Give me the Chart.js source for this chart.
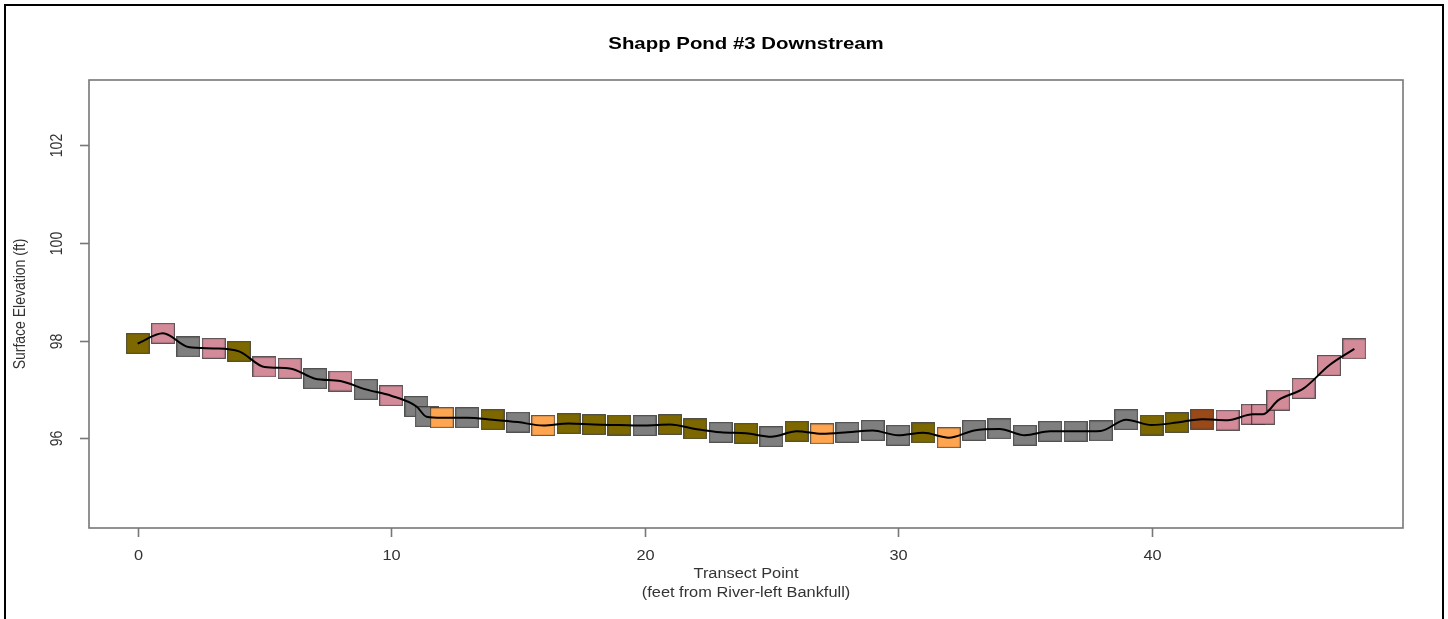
<!DOCTYPE html>
<html lang="en">
<head>
    <meta charset="UTF-8">
    <title>Shapp Pond #3 Downstream</title>
    <script src="https://cdn.jsdelivr.net/npm/chart.js"></script>
    <style>
        body { margin: 0; background: #fff; }
        #wrap { width: 1448px; height: 619px; position: relative; }
    </style>
</head>
<body>
    <div id="wrap"><canvas id="profile" width="1448" height="619"></canvas></div>
    <script>
        // transect point (feet from river-left bankfull) and surface elevation (ft)
        const transectPoints = [0, 1, 2, 3, 4, 5, 6, 7, 8, 9, 10, 11, 11.4, 12, 13, 14, 15, 16, 17, 18, 19, 20,
            21, 22, 23, 24, 25, 26, 27, 28, 29, 30, 31, 32, 33, 34, 35, 36, 37, 38, 39, 40,
            41, 42, 43, 44, 44.4, 45, 46, 47, 48];
        const elevations = [97.94, 98.15, 97.87, 97.84, 97.78, 97.46, 97.43, 97.22, 97.17, 97.00, 96.87, 96.65, 96.44,
            96.42, 96.42, 96.38, 96.33, 96.26, 96.30, 96.28, 96.27, 96.26, 96.28, 96.19, 96.12, 96.10,
            96.03, 96.14, 96.09, 96.12, 96.16, 96.06, 96.11, 96.01, 96.16, 96.19, 96.06, 96.14, 96.14,
            96.15, 96.38, 96.27, 96.32, 96.39, 96.37, 96.49, 96.49, 96.78, 97.02, 97.49, 97.83];
        // substrate class of each point (O olive, P pink, G grey, A orange, B brown)
        const pointClass = ['O', 'P', 'G', 'P', 'O', 'P', 'P', 'G', 'P', 'G', 'P', 'G', 'G',
            'A', 'G', 'O', 'G', 'A', 'O', 'O', 'O', 'G', 'O', 'O', 'G', 'O',
            'G', 'O', 'A', 'G', 'G', 'G', 'O', 'A', 'G', 'G', 'G', 'G', 'G',
            'G', 'G', 'O', 'O', 'B', 'P', 'P', 'P', 'P', 'P', 'P', 'P'];
        const xTicks = [0, 10, 20, 30, 40];
        const yTicks = [96, 98, 100, 102];

        const classColors = { O: '#7d6800', P: '#d38b99', G: '#7f7f7f', A: '#ffa54f', B: '#9a4a18' };

        // the original picture is stretched sideways, so text is widened a bit
        const STRETCH = 1.17;

        function makeBox(color) {
            const c = document.createElement('canvas');
            c.width = 24;
            c.height = 21;
            const g = c.getContext('2d');
            g.fillStyle = color;
            g.fillRect(0.5, 0.5, 23, 20);
            g.strokeStyle = 'rgba(45,45,45,0.75)';
            g.lineWidth = 1.3;
            g.strokeRect(0.5, 0.5, 23, 20);
            return c;
        }
        const boxes = {};
        Object.keys(classColors).forEach(k => boxes[k] = makeBox(classColors[k]));

        const points = transectPoints.map((x, i) => ({ x: x, y: elevations[i] }));

        function wideText(ctx, text, x, y, rotate, sx) {
            ctx.save();
            ctx.translate(x, y);
            ctx.scale(sx || STRETCH, 1);
            if (rotate) ctx.rotate(-Math.PI / 2);
            ctx.fillText(text, 0, 0);
            ctx.restore();
        }

        // R-style frame, ticks and labels
        const rAxes = {
            id: 'rAxes',
            afterDraw(chart) {
                const ctx = chart.ctx;
                const a = chart.chartArea;
                const xs = chart.scales.x, ys = chart.scales.y;
                ctx.save();

                ctx.strokeStyle = '#000';
                ctx.lineWidth = 2;
                ctx.beginPath();
                ctx.moveTo(5, 625);
                ctx.lineTo(5, 5);
                ctx.lineTo(1443, 5);
                ctx.lineTo(1443, 625);
                ctx.stroke();

                ctx.strokeStyle = '#777';
                ctx.lineWidth = 1.6;
                ctx.strokeRect(a.left, a.top, a.right - a.left, a.bottom - a.top);

                ctx.fillStyle = '#333';
                ctx.font = '14px "Liberation Sans", Arial, sans-serif';
                ctx.textAlign = 'center';
                ctx.textBaseline = 'middle';
                xTicks.forEach(v => {
                    const px = Math.round(xs.getPixelForValue(v)) + 0.5;
                    ctx.beginPath();
                    ctx.moveTo(px, a.bottom);
                    ctx.lineTo(px, a.bottom + 9);
                    ctx.stroke();
                    wideText(ctx, String(v), px, 556, false);
                });
                yTicks.forEach(v => {
                    const py = Math.round(ys.getPixelForValue(v)) + 0.5;
                    ctx.beginPath();
                    ctx.moveTo(a.left, py);
                    ctx.lineTo(a.left - 9, py);
                    ctx.stroke();
                    wideText(ctx, String(v), 57, py, true);
                });

                const cx = (a.left + a.right) / 2;
                wideText(ctx, 'Transect Point', cx, 574, false);
                wideText(ctx, '(feet from River-left Bankfull)', cx, 593, false);
                wideText(ctx, 'Surface Elevation (ft)', 20, (a.top + a.bottom) / 2, true);

                ctx.fillStyle = '#000';
                ctx.font = 'bold 17px "Liberation Sans", Arial, sans-serif';
                wideText(ctx, 'Shapp Pond #3 Downstream', cx, 44, false, 1.2);
                ctx.restore();
            }
        };

        new Chart(document.getElementById('profile').getContext('2d'), {
            type: 'scatter',
            data: {
                datasets: [{
                    type: 'line',
                    data: points,
                    borderColor: '#000',
                    borderWidth: 2,
                    pointRadius: 0,
                    cubicInterpolationMode: 'monotone',
                    fill: false,
                    order: 0
                }, {
                    type: 'scatter',
                    data: points,
                    pointStyle: ctx => boxes[pointClass[ctx.dataIndex]],
                    pointRadius: 11,
                    pointHoverRadius: 11,
                    order: 1
                }]
            },
            options: {
                responsive: false,
                animation: false,
                layout: { padding: { left: 89, right: 45, top: 80, bottom: 91 } },
                scales: {
                    x: { type: 'linear', min: -1.92, max: 49.92, display: false },
                    y: { type: 'linear', min: 94.16, max: 103.34, display: false }
                },
                plugins: {
                    legend: { display: false },
                    tooltip: { enabled: false }
                }
            },
            plugins: [rAxes]
        });
    </script>
</body>
</html>
